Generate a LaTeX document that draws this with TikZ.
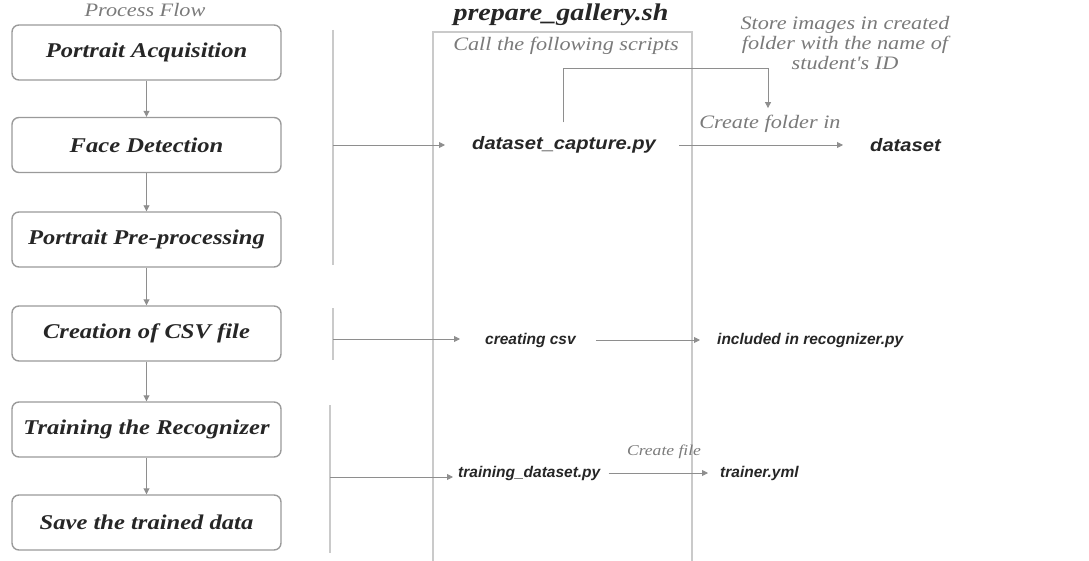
\documentclass[tikz,border=0pt]{standalone}
\usepackage{fontspec}
\setmainfont{Liberation Serif}
\setsansfont{Liberation Sans}
\newfontfamily\serifW[FakeStretch=1.17]{Liberation Serif}
\newfontfamily\sansW[FakeStretch=1.12]{Liberation Sans}
\usetikzlibrary{arrows.meta}
\definecolor{boxline}{HTML}{9A9A9A}
\definecolor{arrline}{HTML}{8E8E8E}
\definecolor{frame}{HTML}{CACACA}
\definecolor{lbl}{HTML}{7A7A7A}
\definecolor{txt}{HTML}{262626}
\tikzset{
  stepbox/.style={draw=boxline, line width=1.4pt, rounded corners=7pt, minimum width=269pt, minimum height=55pt, inner sep=0pt, font=\serifW\fontsize{21}{24}\selectfont\bfseries\itshape, text=txt},
  arr/.style={draw=arrline, line width=0.9pt, -{Triangle[length=6pt,width=6pt]}},
  ln/.style={draw=frame, line width=1.1pt},
  script/.style={anchor=west, inner sep=0pt, font=\sffamily\fontsize{15.5}{18}\selectfont\bfseries\itshape, text=txt},
  bigscript/.style={script, font=\sansW\fontsize{18}{20}\selectfont\bfseries\itshape},
  note/.style={inner sep=0pt, font=\serifW\fontsize{19}{20}\selectfont\itshape, text=lbl},
}
\begin{document}
\begin{tikzpicture}[x=1pt,y=-1pt]
\useasboundingbox (0,0) rectangle (1089,561);
% title
\node[note, anchor=base] (pf) at (145,17) {Process Flow};
% left boxes
\node[stepbox] (s1) at (146.5,52.5) {Portrait Acquisition};
\node[stepbox] (s2) at (146.5,145) {Face Detection};
\node[stepbox] (s3) at (146.5,239.5) {Portrait Pre-processing};
\node[stepbox] (s4) at (146.5,333.5) {Creation of CSV file};
\node[stepbox] (s5) at (146.5,429.5) {Training the Recognizer};
\node[stepbox] (s6) at (146.5,522.5) {Save the trained data};
\foreach \a/\b in {s1/s2,s2/s3,s3/s4,s4/s5,s5/s6}
  \draw[arr] (\a.south) -- (\b.north);
% frame
\coordinate (fa) at (433,32);
\coordinate (fb) at (692,580);
\draw[ln] (fa) rectangle (fb);
\node[font=\serifW\fontsize{24}{26}\selectfont\bfseries\itshape, text=txt, inner sep=0pt, anchor=base] (pg) at (561,21) {prepare\_gallery.sh};
\node[note, anchor=base] (cf0) at (566,51) {Call the following scripts};
% brackets
\coordinate (b1t) at (333,30); \coordinate (b1b) at (333,265); \coordinate (b1m) at (333,145);
\coordinate (b2t) at (333,308); \coordinate (b2b) at (333,360); \coordinate (b2m) at (333,339);
\coordinate (b3t) at (330,405); \coordinate (b3b) at (330,553); \coordinate (b3m) at (330,477);
\draw[ln] (b1t) -- (b1b);
\draw[ln] (b2t) -- (b2b);
\draw[ln] (b3t) -- (b3b);
% scripts
\node[bigscript] (dc) at (472,145) {dataset\_capture.py};
\node[bigscript] (ds) at (870,145) {dataset};
\node[script] (cc) at (485,340) {creating csv};
\node[script] (ir) at (717,340) {included in recognizer.py};
\node[script] (td) at (458,473) {training\_dataset.py};
\node[script] (ty) at (720,473) {trainer.yml};
% labels
\node[note] (cfi) at (770,124) {Create folder in};
\node[note, align=center] (si) at (845,43) {Store images in created\\folder with the name of\\student's ID};
\node[note, font=\serifW\fontsize{15}{18}\selectfont\itshape] (cfl) at (664,452) {Create file};
% arrows
\draw[arr, shorten >=27pt] (b1m) -- (b1m -| dc.west);
\draw[arr, shorten >=25pt] (b2m) -- (b2m -| cc.west);
\draw[arr, shorten >=5pt] (b3m) -- (b3m -| td.west);
\draw[arr, shorten <=23pt, shorten >=27pt] (dc.east) -- (ds.west);
\draw[arr, shorten <=20pt, shorten >=17pt] (cc.east) -- (ir.west);
\draw[arr, shorten <=8pt, shorten >=12pt] (td.east) -- (ty.west);
\coordinate (lpL) at (563,68);
\coordinate (lpR) at (768,68);
\draw[arr, shorten <=14pt, shorten >=7pt] (lpL |- dc.north) -- (lpL) -- (lpR) -- (lpR |- cfi.north);
\end{tikzpicture}
\end{document}
